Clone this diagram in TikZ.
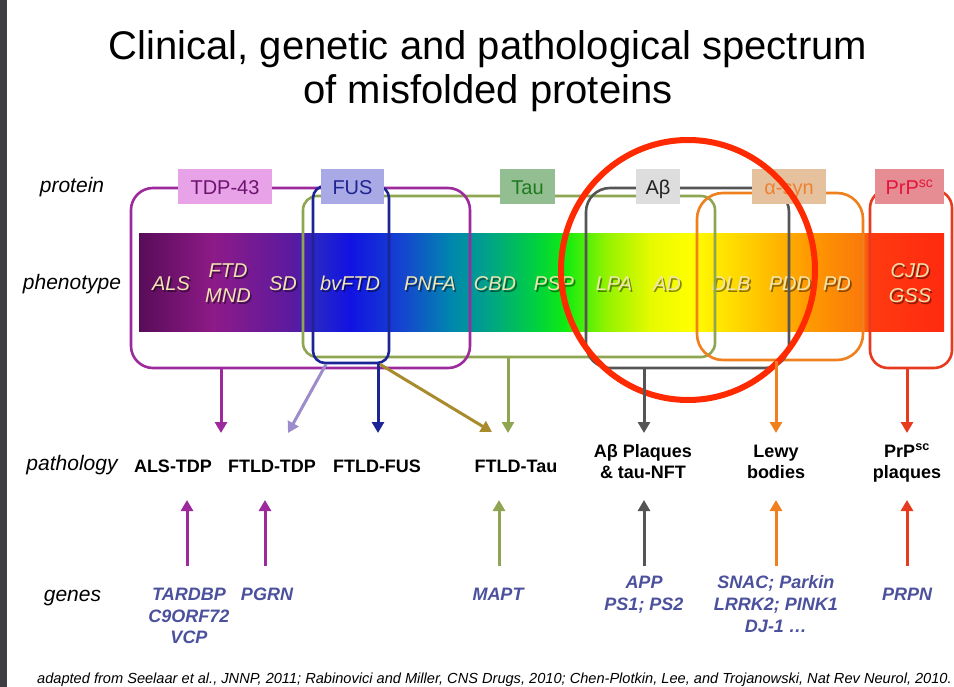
\documentclass[tikz,border=0pt]{standalone}
\usepackage{fontspec}
\setmainfont{Liberation Sans}
\usetikzlibrary{arrows.meta}
\definecolor{stripc}{HTML}{3D3F42}
\definecolor{tdpc}{HTML}{9C2A9C}
\definecolor{tdpfill}{HTML}{E8A2E8}
\definecolor{tdptext}{HTML}{6E1470}
\definecolor{fusc}{HTML}{1C2496}
\definecolor{fusfill}{HTML}{A9A9E6}
\definecolor{fustext}{HTML}{1E2490}
\definecolor{tauc}{HTML}{8EA552}
\definecolor{taufill}{HTML}{92BE92}
\definecolor{tautext}{HTML}{1E7A1E}
\definecolor{abc}{HTML}{555555}
\definecolor{abfill}{HTML}{DDDDDD}
\definecolor{abtext}{HTML}{222222}
\definecolor{sync}{HTML}{F0801E}
\definecolor{synfill}{HTML}{E5C29D}
\definecolor{syntext}{HTML}{F08030}
\definecolor{prpc}{HTML}{E83A1E}
\definecolor{prpfill}{HTML}{E68D94}
\definecolor{prptext}{HTML}{E3143A}
\definecolor{lavc}{HTML}{9C8CCB}
\definecolor{brownc}{HTML}{A88B2C}
\definecolor{genec}{HTML}{4B519C}
\definecolor{phtext}{HTML}{F0E4B0}
\definecolor{circc}{HTML}{FF2A00}
% spectrum stops
\definecolor{s0}{HTML}{580C58}
\definecolor{s1}{HTML}{8E1A88}
\definecolor{s2}{HTML}{5A1AA0}
\definecolor{s3}{HTML}{2626C8}
\definecolor{s4}{HTML}{1212E2}
\definecolor{s5}{HTML}{1448CE}
\definecolor{s6}{HTML}{0086AE}
\definecolor{s7}{HTML}{00A08C}
\definecolor{s8}{HTML}{00D040}
\definecolor{s9}{HTML}{10EC10}
\definecolor{s10}{HTML}{90F200}
\definecolor{s11}{HTML}{E6FA00}
\definecolor{s12}{HTML}{FFFF00}
\definecolor{s13}{HTML}{FFC400}
\definecolor{s14}{HTML}{FF9C00}
\definecolor{s15}{HTML}{FA7A0A}
\definecolor{s16}{HTML}{FF3A10}
\definecolor{s17}{HTML}{FF2A10}
\begin{document}
\begin{tikzpicture}[x=1pt,y=-1pt,
  rowlab/.style={font=\fontsize{21}{24}\selectfont\itshape, anchor=base, inner sep=0pt},
  protbox/.style={inner sep=0pt, minimum height=35pt, text height=17pt, text depth=0pt, font=\fontsize{20}{24}\selectfont},
  grp/.style={draw, rounded corners=#1, line width=2.6pt, inner sep=0pt},
  phshadow/.style={font=\fontsize{20}{23}\selectfont\itshape, anchor=base, inner sep=0pt, text=black, text opacity=0.45},
  phlab/.style={font=\fontsize{20}{23}\selectfont\itshape, anchor=base, inner sep=0pt, text=phtext},
  pathtxt/.style={font=\fontsize{18}{21}\selectfont\bfseries, anchor=base, inner sep=0pt},
  gene/.style={font=\fontsize{18}{21}\selectfont\bfseries\itshape, anchor=base, inner sep=0pt, text=genec},
  arr/.style={line width=3pt, -{Triangle[width=12pt,length=11pt]}}
]
\useasboundingbox (0,0) rectangle (954,687);
\fill[white] (0,0) rectangle (954,687);
\fill[stripc] (0,0) rectangle (7,687);

% title
\node[anchor=base, inner sep=0pt, font=\fontsize{40}{46}\selectfont] (title1) at (488,60) {Clinical, genetic and pathological spectrum};
\node[anchor=base, inner sep=0pt, font=\fontsize{40}{46}\selectfont] (title2) at (488,104) {of misfolded proteins};

% row labels
\node[rowlab] (rprot) at (72,193) {protein};
\node[rowlab] (rphen) at (72,290) {phenotype};
\node[rowlab] (rpath) at (72,470) {pathology};
\node[rowlab] (rgene) at (72.5,601) {genes};

% spectrum bar
\shade[left color=s0,right color=s1] (139,234) rectangle (213.5,332);
\shade[left color=s1,right color=s2] (213,234) rectangle (293.5,332);
\shade[left color=s2,right color=s3] (293,234) rectangle (318.5,332);
\shade[left color=s3,right color=s4] (318,234) rectangle (350.5,332);
\shade[left color=s4,right color=s5] (350,234) rectangle (405.5,332);
\shade[left color=s5,right color=s6] (405,234) rectangle (450.5,332);
\shade[left color=s6,right color=s7] (450,234) rectangle (485.5,332);
\shade[left color=s7,right color=s8] (485,234) rectangle (535.5,332);
\shade[left color=s8,right color=s9] (535,234) rectangle (565.5,332);
\shade[left color=s9,right color=s10] (565,234) rectangle (605.5,332);
\shade[left color=s10,right color=s11] (605,234) rectangle (650.5,332);
\shade[left color=s11,right color=s12] (650,234) rectangle (690.5,332);
\shade[left color=s12,right color=s13] (690,234) rectangle (760.5,332);
\shade[left color=s13,right color=s14] (760,234) rectangle (805.5,332);
\shade[left color=s14,right color=s15] (805,234) rectangle (860.5,332);
\shade[left color=s15,right color=s16] (860,234) rectangle (872.5,332);
\shade[left color=s16,right color=s17] (872,234) rectangle (944,332);

% phenotype labels
\foreach \nm/\x/\y/\t in {als/171/291/ALS, ftd/228/278/FTD, mnd/228/303/MND, sd/283/291/SD,
  bvftd/350/291/bvFTD, pnfa/430/291/PNFA, cbd/495/291/CBD, psp/554/291/PSP, lpa/614/291/LPA,
  ad/667/291/AD, dlb/731/291/DLB, pdd/790/291/PDD, pd/837/291/PD, cjd/910/278/CJD, gss/910/303/GSS}{
  \node[phshadow] (\nm-s) at (\x+1.6,\y+1.6) {\t};
  \node[phlab] (\nm) at (\x,\y) {\t};
}

% group boxes
\node[grp=14pt, draw=tauc, minimum width=412pt, minimum height=161pt] (taugrp) at (509,276.5) {};
\node[grp=22pt, draw=tdpc, minimum width=339pt, minimum height=180pt] (tdpgrp) at (300.5,278) {};
\node[grp=12pt, draw=fusc, minimum width=76pt, minimum height=177pt] (fusgrp) at (351,274.5) {};
\node[grp=26pt, draw=sync, minimum width=166pt, minimum height=167pt] (syngrp) at (780,276.5) {};
\node[grp=24pt, draw=abc, minimum width=203pt, minimum height=180pt] (abgrp) at (687.5,278) {};
\node[grp=18pt, draw=prpc, minimum width=82pt, minimum height=178pt] (prpgrp) at (911,279) {};

% protein label boxes
\node[protbox, fill=tdpfill, text=tdptext, minimum width=94pt] (tdplab) at (225,186.5) {TDP-43};
\node[protbox, fill=fusfill, text=fustext, minimum width=63pt] (fuslab) at (352.5,186.5) {FUS};
\node[protbox, fill=taufill, text=tautext, minimum width=55pt] (taulab) at (527.5,186.5) {Tau};
\node[protbox, fill=abfill, text=abtext, minimum width=44pt] (ablab) at (658,186.5) {Aβ};
\node[protbox, fill=synfill, text=syntext, minimum width=74pt] (synlab) at (789,186.5) {α-syn};
\node[protbox, fill=prpfill, text=prptext, minimum width=69pt] (prplab) at (909.5,186.5) {PrP\textsuperscript{sc}};

% big red circle
\draw[circc, line width=6pt] (688,270) ellipse [x radius=127pt, y radius=130pt];

% pathology labels
\node[pathtxt] (alstdp) at (173,472) {ALS-TDP};
\node[pathtxt] (ftldtdp) at (272,472) {FTLD-TDP};
\node[pathtxt] (ftldfus) at (377,472) {FTLD-FUS};
\node[pathtxt] (ftldtau) at (516,472) {FTLD-Tau};
\node[pathtxt] (abpl1) at (643,457) {Aβ Plaques};
\node[pathtxt] (abpl2) at (643,478) {\& tau-NFT};
\node[pathtxt] (lewy1) at (776,457) {Lewy};
\node[pathtxt] (lewy2) at (776,478) {bodies};
\node[pathtxt] (prppl1) at (907,457) {PrP\textsuperscript{sc}};
\node[pathtxt] (prppl2) at (907,478) {plaques};

% arrow end coordinates (pathology row)
\coordinate (e1) at (221,433);
\coordinate (e2) at (288,433);
\coordinate (e3) at (378,433);
\coordinate (e4) at (492,432);
\coordinate (e5) at (508,433);
\coordinate (e6) at (644,433);
\coordinate (e7) at (776,433);
\coordinate (e8) at (907,433);
\coordinate (s2) at (326,0);
\coordinate (s4) at (380,0);

\draw[arr, tdpc] (tdpgrp.south -| e1) -- (e1);
\draw[arr, lavc] (fusgrp.south -| s2) -- (e2);
\draw[arr, fusc] (fusgrp.south -| e3) -- (e3);
\draw[arr, brownc] (fusgrp.south -| s4) -- (e4);
\draw[arr, tauc] (taugrp.south -| e5) -- (e5);
\draw[arr, abc] (abgrp.south -| e6) -- (e6);
\draw[arr, sync] (syngrp.south -| e7) -- (e7);
\draw[arr, prpc] (prpgrp.south -| e8) -- (e8);

% genes
\node[gene] (tardbp) at (189,600) {TARDBP};
\node[gene] (c9orf) at (189,622) {C9ORF72};
\node[gene] (vcp) at (189,643) {VCP};
\node[gene] (pgrn) at (267,600) {PGRN};
\node[gene] (mapt) at (498,600) {MAPT};
\node[gene] (app) at (644,588) {APP};
\node[gene] (ps) at (644,610) {PS1; PS2};
\node[gene] (snac) at (776,588) {SNAC; Parkin};
\node[gene] (lrrk) at (776,610) {LRRK2; PINK1};
\node[gene] (dj) at (776,632) {DJ-1 …};
\node[gene] (prpn) at (907,600) {PRPN};

% gene arrows
\foreach \nm/\x/\c in {g1/187/tdpc, g2/265/tdpc, g3/499/tauc, g4/644/abc, g5/776/sync, g6/907/prpc}{
  \coordinate (\nm b) at (\x,566);
  \coordinate (\nm t) at (\x,500);
  \draw[arr, \c] (\nm b) -- (\nm t);
}

% footnote
\node[anchor=base, inner sep=0pt, font=\fontsize{14.6}{17}\selectfont\itshape] (foot) at (494.5,683) {adapted from Seelaar et al., JNNP, 2011; Rabinovici and Miller, CNS Drugs, 2010; Chen-Plotkin, Lee, and Trojanowski, Nat Rev Neurol, 2010.};
\end{tikzpicture}
\end{document}
